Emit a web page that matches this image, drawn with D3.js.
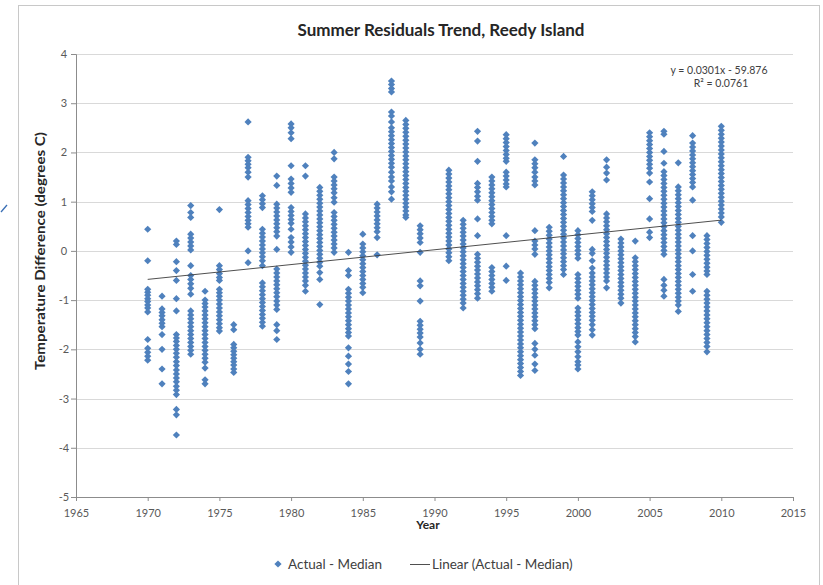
<!DOCTYPE html>
<html>
<head>
<meta charset="utf-8">
<script src="https://cdn.jsdelivr.net/npm/d3@7"></script>
<style>
  html, body { margin: 0; padding: 0; background: #fff; }
  svg { display: block; }
  text { font-family: Lato, "Open Sans", sans-serif; }
</style>
</head>
<body>
<svg id="chart" width="823" height="585"></svg>
<script>
// Summer residuals (actual minus median), degrees C, one list per year
const years = [1970, 1971, 1972, 1973, 1974, 1975, 1976, 1977, 1978, 1979,
  1980, 1981, 1982, 1983, 1984, 1985, 1986, 1987, 1988, 1989,
  1991, 1992, 1993, 1994, 1995, 1996, 1997, 1998, 1999, 2000,
  2001, 2002, 2003, 2004, 2005, 2006, 2007, 2008, 2009, 2010];

const residuals = [
  [0.44, -0.2, -0.78, -0.84, -0.9, -0.97, -1.03, -1.1, -1.16, -1.24, -1.8, -1.98, -2.06, -2.14, -2.22],
  [-0.92, -1.18, -1.25, -1.32, -1.4, -1.47, -1.54, -1.7, -2.0, -2.4, -2.7],
  [0.2, 0.13, -0.22, -0.4, -0.6, -0.97, -1.22, -1.7, -1.77, -1.84, -1.92, -2.0, -2.08, -2.16, -2.25, -2.33, -2.42, -2.5, -2.58, -2.66, -2.75, -2.83, -2.92, -3.22, -3.33, -3.74],
  [0.92, 0.78, 0.68, 0.34, 0.26, 0.18, 0.1, 0.02, -0.3, -0.5, -0.58, -0.67, -0.76, -0.88, -1.22, -1.3, -1.38, -1.46, -1.54, -1.62, -1.7, -1.78, -1.86, -1.94, -2.02, -2.1],
  [-0.82, -1.0, -1.07, -1.14, -1.22, -1.3, -1.38, -1.46, -1.54, -1.62, -1.7, -1.78, -1.86, -1.94, -2.02, -2.1, -2.18, -2.26, -2.38, -2.62, -2.7],
  [0.84, -0.3, -0.38, -0.46, -0.54, -0.6, -0.78, -0.85, -0.92, -1.0, -1.08, -1.16, -1.24, -1.32, -1.4, -1.48, -1.56, -1.63],
  [-1.5, -1.6, -1.9, -1.97, -2.04, -2.11, -2.18, -2.25, -2.32, -2.4, -2.47],
  [2.62, 1.9, 1.83, 1.76, 1.69, 1.6, 1.5, 1.02, 0.94, 0.86, 0.78, 0.7, 0.62, 0.55, 0.48, 0.0, -0.24],
  [1.12, 1.04, 0.96, 0.88, 0.44, 0.36, 0.28, 0.2, 0.12, 0.04, -0.04, -0.12, -0.2, -0.3, -0.65, -0.73, -0.81, -0.89, -0.97, -1.05, -1.13, -1.21, -1.29, -1.37, -1.45, -1.53],
  [1.52, 1.33, 0.95, 0.87, 0.79, 0.71, 0.63, 0.55, 0.47, 0.39, 0.3, 0.03, -0.37, -0.45, -0.53, -0.61, -0.69, -0.77, -0.85, -0.93, -1.02, -1.1, -1.19, -1.5, -1.62, -1.8],
  [2.58, 2.5, 2.4, 2.28, 1.73, 1.46, 1.37, 1.28, 1.19, 0.88, 0.8, 0.72, 0.64, 0.56, 0.44, 0.27, 0.18, 0.08, -0.03],
  [1.73, 1.52, 0.75, 0.67, 0.59, 0.51, 0.43, 0.35, 0.27, 0.19, 0.11, 0.03, -0.05, -0.13, -0.21, -0.29, -0.37, -0.45, -0.53, -0.61, -0.7, -0.82],
  [1.29, 1.21, 1.13, 1.05, 0.97, 0.89, 0.81, 0.73, 0.65, 0.57, 0.49, 0.41, 0.33, 0.25, 0.17, 0.09, 0.01, -0.07, -0.15, -0.23, -0.31, -0.44, -0.58, -1.09],
  [2.0, 1.87, 1.5, 1.42, 1.34, 1.26, 1.18, 1.08, 0.99, 0.78, 0.7, 0.62, 0.54, 0.46, 0.38, 0.3, 0.22, 0.14, 0.06, -0.03],
  [-0.03, -0.4, -0.5, -0.78, -0.86, -0.94, -1.02, -1.1, -1.18, -1.26, -1.34, -1.42, -1.5, -1.58, -1.66, -1.73, -1.97, -2.14, -2.3, -2.45, -2.7],
  [0.34, 0.14, 0.06, -0.02, -0.1, -0.18, -0.26, -0.34, -0.42, -0.5, -0.58, -0.66, -0.74, -0.85],
  [0.95, 0.87, 0.79, 0.71, 0.63, 0.55, 0.47, 0.39, 0.27, -0.08],
  [3.45, 3.38, 3.3, 3.23, 2.82, 2.74, 2.62, 2.5, 2.42, 2.34, 2.26, 2.18, 2.1, 2.02, 1.94, 1.86, 1.78, 1.7, 1.6, 1.5, 1.42, 1.3, 1.2, 1.05],
  [2.65, 2.57, 2.49, 2.41, 2.33, 2.25, 2.17, 2.09, 2.01, 1.93, 1.85, 1.77, 1.69, 1.61, 1.53, 1.45, 1.37, 1.29, 1.21, 1.13, 1.05, 0.97, 0.89, 0.81, 0.73, 0.68],
  [0.51, 0.43, 0.35, 0.26, 0.17, -0.03, -0.61, -0.71, -1.02, -1.43, -1.51, -1.59, -1.67, -1.75, -1.87, -2.0, -2.1],
  [1.64, 1.56, 1.48, 1.4, 1.32, 1.24, 1.16, 1.08, 1.0, 0.92, 0.84, 0.76, 0.68, 0.6, 0.52, 0.44, 0.36, 0.28, 0.2, 0.12, 0.04, -0.04, -0.12, -0.2],
  [0.62, 0.54, 0.46, 0.38, 0.3, 0.22, 0.14, 0.06, -0.02, -0.1, -0.18, -0.26, -0.34, -0.42, -0.5, -0.58, -0.66, -0.74, -0.82, -0.9, -0.98, -1.06, -1.16],
  [2.43, 2.23, 1.82, 1.37, 1.29, 1.2, 1.11, 1.03, 0.65, 0.31, -0.07, -0.15, -0.23, -0.31, -0.39, -0.47, -0.55, -0.63, -0.71, -0.79, -0.87, -0.96],
  [1.5, 1.42, 1.34, 1.26, 1.18, 1.1, 1.02, 0.94, 0.86, 0.78, 0.7, 0.62, 0.55, -0.34, -0.42, -0.5, -0.58, -0.66, -0.74, -0.82],
  [2.36, 2.28, 2.2, 2.12, 2.04, 1.96, 1.88, 1.82, 1.6, 1.52, 1.44, 1.36, 1.3, 0.31, -0.31, -0.6],
  [-0.45, -0.53, -0.61, -0.69, -0.77, -0.85, -0.93, -1.01, -1.09, -1.17, -1.25, -1.33, -1.41, -1.49, -1.57, -1.65, -1.73, -1.81, -1.89, -1.97, -2.05, -2.13, -2.21, -2.29, -2.37, -2.45, -2.53],
  [2.19, 1.85, 1.77, 1.69, 1.6, 1.5, 1.42, 1.34, 0.41, 0.2, 0.12, 0.04, -0.07, -0.62, -0.7, -0.78, -0.86, -0.94, -1.02, -1.1, -1.18, -1.26, -1.34, -1.42, -1.5, -1.58, -1.88, -2.0, -2.12, -2.3, -2.43],
  [0.48, 0.4, 0.32, 0.24, 0.16, 0.08, 0.0, -0.08, -0.16, -0.24, -0.32, -0.4, -0.48, -0.56, -0.64, -0.75],
  [1.92, 1.54, 1.46, 1.38, 1.3, 1.22, 1.14, 1.06, 0.98, 0.9, 0.82, 0.74, 0.66, 0.58, 0.5, 0.42, 0.34, 0.26, 0.18, 0.1, 0.02, -0.06, -0.14, -0.22, -0.3, -0.38, -0.48],
  [0.41, 0.33, 0.25, 0.17, 0.09, 0.01, -0.07, -0.15, -0.48, -0.56, -0.64, -0.72, -0.8, -0.88, -0.96, -1.16, -1.24, -1.32, -1.4, -1.48, -1.56, -1.64, -1.71, -1.85, -1.95, -2.05, -2.15, -2.25, -2.32, -2.4],
  [1.2, 1.12, 1.04, 0.96, 0.88, 0.8, 0.62, 0.03, -0.05, -0.2, -0.35, -0.45, -0.53, -0.61, -0.69, -0.77, -0.85, -0.93, -1.01, -1.09, -1.17, -1.25, -1.33, -1.41, -1.5, -1.6, -1.71],
  [1.85, 1.7, 1.58, 1.44, 0.75, 0.67, 0.59, 0.51, 0.43, 0.35, 0.27, 0.19, 0.11, 0.03, -0.05, -0.13, -0.21, -0.29, -0.37, -0.45, -0.53, -0.61, -0.75],
  [0.24, 0.16, 0.08, 0.0, -0.08, -0.16, -0.24, -0.32, -0.4, -0.48, -0.56, -0.64, -0.72, -0.8, -0.88, -0.96, -1.06],
  [0.2, -0.14, -0.22, -0.3, -0.38, -0.46, -0.54, -0.62, -0.7, -0.78, -0.86, -0.94, -1.02, -1.1, -1.18, -1.26, -1.34, -1.42, -1.5, -1.58, -1.66, -1.74, -1.85],
  [2.4, 2.32, 2.24, 2.16, 2.08, 2.0, 1.92, 1.84, 1.76, 1.68, 1.58, 1.4, 1.06, 0.65, 0.38, 0.27],
  [2.43, 2.37, 2.02, 1.78, 1.61, 1.53, 1.45, 1.37, 1.29, 1.21, 1.13, 1.05, 0.97, 0.89, 0.81, 0.73, 0.65, 0.57, 0.49, 0.41, 0.33, 0.25, 0.17, 0.09, 0.01, -0.07, -0.58, -0.7, -0.8, -0.92],
  [1.79, 1.3, 1.22, 1.14, 1.06, 0.98, 0.9, 0.82, 0.74, 0.66, 0.58, 0.5, 0.42, 0.34, 0.26, 0.18, 0.1, 0.02, -0.06, -0.14, -0.22, -0.3, -0.38, -0.46, -0.54, -0.62, -0.7, -0.78, -0.86, -0.94, -1.02, -1.1, -1.23],
  [2.34, 2.19, 2.11, 2.03, 1.95, 1.87, 1.79, 1.71, 1.63, 1.55, 1.47, 1.39, 1.3, 1.03, 0.31, 0.0, -0.48, -0.82],
  [0.31, 0.23, 0.15, 0.07, -0.01, -0.09, -0.17, -0.25, -0.33, -0.41, -0.48, -0.82, -0.9, -0.98, -1.06, -1.14, -1.22, -1.3, -1.38, -1.46, -1.54, -1.62, -1.7, -1.78, -1.86, -1.94, -2.05],
  [2.53, 2.45, 2.37, 2.29, 2.21, 2.13, 2.05, 1.97, 1.89, 1.81, 1.73, 1.65, 1.57, 1.49, 1.41, 1.33, 1.25, 1.17, 1.09, 1.01, 0.93, 0.85, 0.77, 0.69, 0.58]
];

// Axis tick values
const xTicks = [1965, 1970, 1975, 1980, 1985, 1990, 1995, 2000, 2005, 2010, 2015];
const yTicks = [4, 3, 2, 1, 0, -1, -2, -3, -4, -5];

// Linear trend as reported on the chart
const trendSlope = 0.0301;
const trendIntercept = -59.876;
const trendR2 = 0.0761;
const trendRange = [1970, 2010];

const chartTitle = "Summer Residuals Trend, Reedy Island";
const xTitle = "Year";
const yTitle = "Temperature Difference (degrees C)";
const seriesName = "Actual - Median";
const trendName = "Linear (Actual - Median)";

const points = years.flatMap((yr, i) => residuals[i].map(v => ({ year: yr, value: v })));

const svg = d3.select("#chart");
const blue = "#4f81bd";
const plain = d => String(d);   // hyphen-minus, as in the spreadsheet labels

const x = d3.scaleLinear().domain([1965, 2015]).range([76, 793]);
const y = d3.scaleLinear().domain([-5, 4]).range([497, 54]);

// Outer chart frame
svg.append("rect")
  .attr("x", 18.5).attr("y", 5.5)
  .attr("width", 801).attr("height", 590)
  .attr("fill", "#fff").attr("stroke", "#c8c8c8");

// Small stray stroke left of the frame
svg.append("path")
  .attr("d", "M1,212 L7,205")
  .attr("stroke", "#3a6fb5").attr("stroke-width", 1.3).attr("fill", "none");

// Horizontal gridlines
svg.append("g")
  .selectAll("line")
  .data(yTicks.filter(t => t !== -5))
  .join("line")
  .attr("x1", x(1965)).attr("x2", x(2015))
  .attr("y1", d => Math.round(y(d)) + 0.5).attr("y2", d => Math.round(y(d)) + 0.5)
  .attr("stroke", "#d9d9d9").attr("stroke-width", 1);

// Y axis
const yAxis = svg.append("g")
  .attr("transform", `translate(${x(1965)},0)`)
  .call(d3.axisLeft(y).tickValues(yTicks).tickSize(5).tickPadding(12).tickFormat(plain));
yAxis.select(".domain").attr("stroke", "#8c8c8c");
yAxis.selectAll(".tick line").attr("stroke", "#8c8c8c");
yAxis.selectAll(".tick text").attr("fill", "#595959").style("font-size", "11px")
  .style("font-family", "Lato, sans-serif").attr("text-anchor", "middle").attr("dx", "5");

// X axis
const xAxis = svg.append("g")
  .attr("transform", `translate(0,${y(-5)})`)
  .call(d3.axisBottom(x).tickValues(xTicks).tickSize(4).tickPadding(8).tickFormat(plain));
xAxis.select(".domain").attr("stroke", "#8c8c8c");
xAxis.selectAll(".tick line").attr("stroke", "#8c8c8c");
xAxis.selectAll(".tick text").attr("fill", "#595959").style("font-size", "11px")
  .style("font-family", "Lato, sans-serif");

// Data points as diamonds
const diamond = r => `M0,${-r}L${r},0L0,${r}L${-r},0Z`;
svg.append("g")
  .selectAll("path")
  .data(points)
  .join("path")
  .attr("d", diamond(3.6))
  .attr("transform", d => `translate(${x(d.year)},${y(d.value)})`)
  .attr("fill", blue);

// Trend line
const trend = trendRange.map(yr => ({ year: yr, value: trendSlope * yr + trendIntercept }));
svg.append("path")
  .datum(trend)
  .attr("d", d3.line().x(d => x(d.year)).y(d => y(d.value)))
  .attr("stroke", "#3b3b3b").attr("stroke-width", 0.9).attr("fill", "none");

// Trend equation
const eq = svg.append("g").attr("fill", "#404040").style("font-size", "10.5px");
eq.append("text").attr("x", 719).attr("y", 74).attr("text-anchor", "middle")
  .text(`y = ${trendSlope.toFixed(4)}x - ${Math.abs(trendIntercept).toFixed(3)}`);
eq.append("text").attr("x", 721).attr("y", 87).attr("text-anchor", "middle")
  .text(`R² = ${trendR2.toFixed(4)}`);

// Titles
svg.append("text")
  .attr("x", 441).attr("y", 36).attr("text-anchor", "middle")
  .attr("fill", "#262626").style("font-size", "17px").style("font-weight", "bold")
  .text(chartTitle);

svg.append("text")
  .attr("x", 428).attr("y", 529).attr("text-anchor", "middle")
  .attr("fill", "#262626").style("font-size", "12px").style("font-weight", "bold")
  .text(xTitle);

svg.append("text")
  .attr("transform", `translate(45,251) rotate(-90)`)
  .attr("text-anchor", "middle")
  .attr("fill", "#262626").style("font-size", "13px").style("font-weight", "bold")
  .attr("textLength", 238).attr("lengthAdjust", "spacingAndGlyphs")
  .text(yTitle);

// Legend
const legend = svg.append("g").attr("transform", "translate(0,564)");
legend.append("path").attr("d", diamond(3.6)).attr("transform", "translate(278,0)").attr("fill", blue);
legend.append("text").attr("x", 288).attr("y", 4.5).attr("fill", "#404040").style("font-size", "13.5px").text(seriesName);
legend.append("line").attr("x1", 410).attr("x2", 430).attr("y1", 0.5).attr("y2", 0.5)
  .attr("stroke", "#3b3b3b").attr("stroke-width", 0.9);
legend.append("text").attr("x", 432).attr("y", 4.5).attr("fill", "#404040").style("font-size", "13.5px").text(trendName);
</script>
</body>
</html>
